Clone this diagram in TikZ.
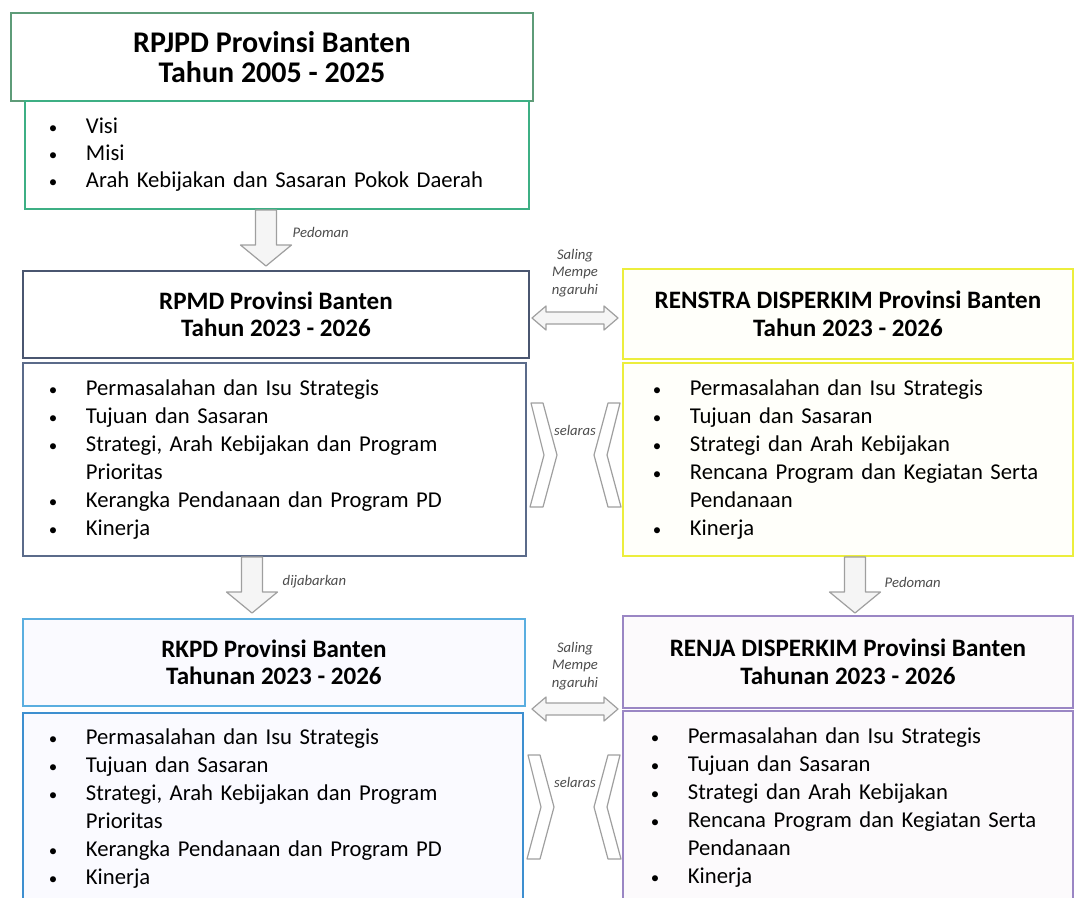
\documentclass[tikz,border=0pt]{standalone}
\usepackage{fontspec}
\setmainfont{Carlito}
\usepackage{tikz}
\usetikzlibrary{positioning, calc}
\usepackage{xcolor}
\definecolor{rpjgreen}{HTML}{5E9C78}
\definecolor{rpjlight}{HTML}{3DAF84}
\definecolor{rpmdslate}{HTML}{4A5670}
\definecolor{rpmdlight}{HTML}{5B6B8A}
\definecolor{renyellow}{HTML}{ECEE3C}
\definecolor{rkpdblue}{HTML}{5AAEE0}
\definecolor{rkpddeep}{HTML}{3D8FD0}
\definecolor{renjapurple}{HTML}{9A86C4}

\newdimen\px \px=0.75pt
\newcommand{\bul}{\makebox[37\px][l]{\scalebox{0.75}{\textbullet}}}
\newcommand{\ind}{\hspace*{37\px}}

\begin{document}
\begin{tikzpicture}[x=0.75pt, y=-0.75pt,
    titlebox/.style={draw, line width=1.4pt, anchor=north west, align=center,
                     inner sep=0pt, font=\fontsize{18.8}{20.5}\selectfont\bfseries},
    listbox/.style={draw, line width=1.4pt, anchor=north west, align=left,
                    inner ysep=0pt, font=\fontsize{17}{21}\selectfont},
    note/.style={font=\fontsize{11}{13}\selectfont\itshape, text=black!70, align=center},
    blk/.style={draw=gray!75, line width=0.9pt, fill=gray!8, line join=round},
    pics/downblk/.style={code={
        \draw[blk] (-10.5,0) -- (10.5,0) -- (10.5,35) -- (25.5,35) -- (0,56)
                   -- (-25.5,35) -- (-10.5,35) -- cycle;}},
    pics/twoblk/.style={code={
        \draw[blk] (-43,0) -- (-29,-12) -- (-29,-6) -- (29,-6) -- (29,-12) -- (43,0)
                   -- (29,12) -- (29,6) -- (-29,6) -- (-29,12) -- cycle;}},
    pics/chevr/.style={code={
        \draw[blk, fill=white] (0,0) -- (12,0) -- (26,52) -- (12,104) -- (-1,104)
                   -- (13,52) -- cycle;}},
  ]
  \useasboundingbox (0,0) rectangle (1078,897);
  \clip (0,0) rectangle (1078,897);

  % RPJPD
  \node[titlebox, draw=rpjgreen, minimum width=522\px, minimum height=88\px,
        font=\fontsize{22.5}{22.5}\selectfont\bfseries]
    (rpjpd) at (10,12) {RPJPD Provinsi Banten\\Tahun 2005 - 2025};
  \node[listbox, draw=rpjlight, minimum height=108\px, inner xsep=24\px, text width=456\px,
        font=\fontsize{17}{20.25}\selectfont]
    (rpjpdlist) at (24,100) {\bul Visi\\ \bul Misi\\ \bul Arah Kebijakan dan Sasaran Pokok Daerah};

  % RPMD
  \node[titlebox, draw=rpmdslate, minimum width=506\px, minimum height=87\px]
    (rpmd) at (22,270) {RPMD Provinsi Banten\\Tahun 2023 - 2026};
  \node[listbox, draw=rpmdlight, minimum height=193\px, inner xsep=26\px, text width=451\px]
    (rpmdlist) at (22,362) {\bul Permasalahan dan Isu Strategis\\
      \bul Tujuan dan Sasaran\\
      \bul Strategi, Arah Kebijakan dan Program\\ \ind Prioritas\\
      \bul Kerangka Pendanaan dan Program PD\\
      \bul Kinerja};

  % RENSTRA
  \node[titlebox, draw=renyellow, fill=yellow!2, minimum width=450\px, minimum height=90\px]
    (renstra) at (622,268) {RENSTRA DISPERKIM Provinsi Banten\\Tahun 2023 - 2026};
  \node[listbox, draw=renyellow, fill=yellow!2, minimum height=193\px, inner xsep=30\px, text width=390\px]
    (renstralist) at (622,362) {\bul Permasalahan dan Isu Strategis\\
      \bul Tujuan dan Sasaran\\
      \bul Strategi dan Arah Kebijakan\\
      \bul Rencana Program dan Kegiatan Serta\\ \ind Pendanaan\\
      \bul Kinerja};

  % RKPD
  \node[titlebox, draw=rkpdblue, fill=blue!2, minimum width=502\px, minimum height=87\px]
    (rkpd) at (22,618) {RKPD Provinsi Banten\\Tahunan 2023 - 2026};
  \node[listbox, draw=rkpddeep, fill=blue!2, minimum height=192\px, inner xsep=26\px, text width=448\px]
    (rkpdlist) at (22,712) {\bul Permasalahan dan Isu Strategis\\
      \bul Tujuan dan Sasaran\\
      \bul Strategi, Arah Kebijakan dan Program\\ \ind Prioritas\\
      \bul Kerangka Pendanaan dan Program PD\\
      \bul Kinerja};

  % RENJA
  \node[titlebox, draw=renjapurple, fill=violet!2, minimum width=450\px, minimum height=92\px]
    (renja) at (622,615) {RENJA DISPERKIM Provinsi Banten\\Tahunan 2023 - 2026};
  \node[listbox, draw=renjapurple, fill=violet!2, minimum height=194\px, inner xsep=28\px, text width=394\px]
    (renjalist) at (622,710) {\bul Permasalahan dan Isu Strategis\\
      \bul Tujuan dan Sasaran\\
      \bul Strategi dan Arah Kebijakan\\
      \bul Rencana Program dan Kegiatan Serta\\ \ind Pendanaan\\
      \bul Kinerja};

  % block arrows
  \pic at (266,210) {downblk};
  \pic at (252,557) {downblk};
  \pic at (855,557) {downblk};
  \pic at (575,318) {twoblk};
  \pic at (575,709) {twoblk};
  \pic at (531,403) {chevr};
  \pic[xscale=-1] at (620,403) {chevr};
  \pic at (528,755) {chevr};
  \pic[xscale=-1] at (620,755) {chevr};

  \node[note, anchor=west] (ped1) at (288,232) {Pedoman};
  \node[note] (sm1) at (575,273) {Saling\\Mempe\\ngaruhi};
  \node[note] (sel1) at (575,430) {selaras};
  \node[note, anchor=west] (jab) at (278,582) {dijabarkan};
  \node[note, anchor=west] (ped2) at (880,582) {Pedoman};
  \node[note] (sm2) at (575,666) {Saling\\Mempe\\ngaruhi};
  \node[note] (sel2) at (575,782) {selaras};
\end{tikzpicture}
\end{document}
